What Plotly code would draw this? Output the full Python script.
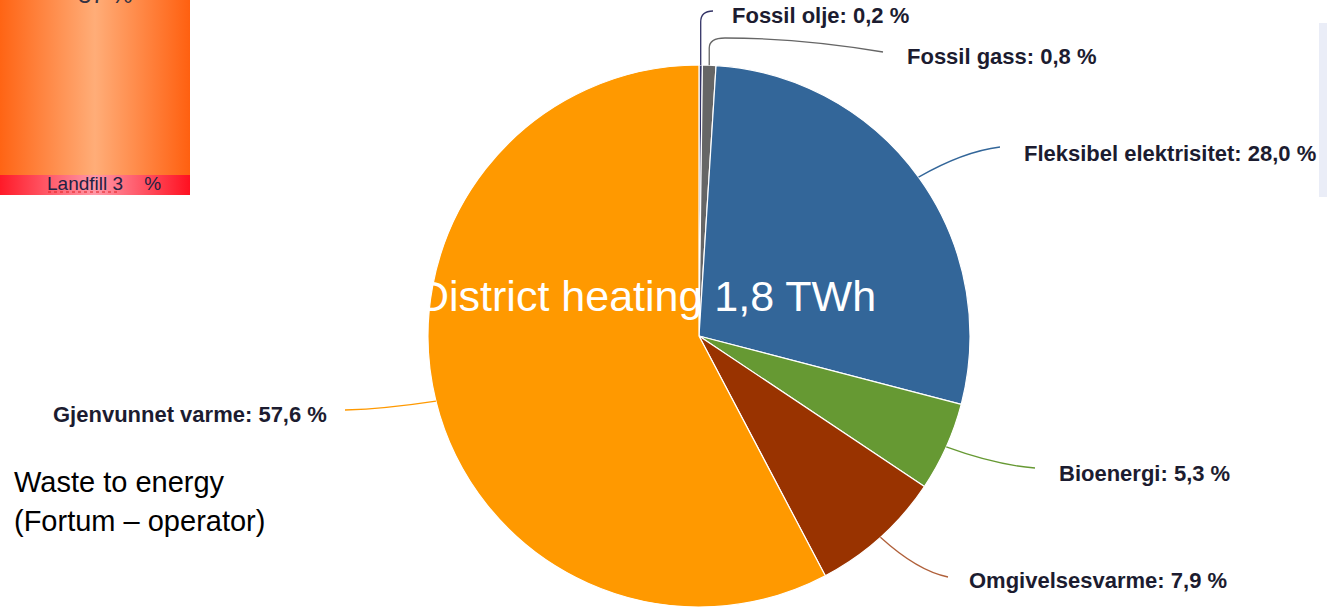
"""
District heating mix (1,8 TWh) as a pie with outside labels.
"""

import math

import plotly.graph_objects as go

W, H = 1327, 607

# data
sources = ["Fossil olje", "Fossil gass", "Fleksibel elektrisitet",
           "Bioenergi", "Omgivelsesvarme", "Gjenvunnet varme"]
shares = [0.2, 0.8, 28.0, 5.3, 7.9, 57.6]
share_text = ["0,2", "0,8", "28,0", "5,3", "7,9", "57,6"]
slice_colors = ["#333366", "#666666", "#336699", "#669933", "#993300", "#FF9900"]
line_colors = ["#333366", "#666666", "#336699", "#669933", "#B0603A", "#FF9900"]

title_text = "District heating 1,8 TWh"
note_lines = ["Waste to energy", "(Fortum \u2013 operator)"]
inset_bottom = "Landfill 3\u00a0\u00a0\u00a0 %"
inset_top = "37 %"

# pie placement (pixels)
CX, CY, R = 699, 336, 271

# label placement: (x, y, xanchor) and connector end point
label_pos = [(730, 15, "left"), (905, 57, "left"), (1022, 153, "left"),
             (1057, 473, "left"), (967, 580, "left"), (329, 414, "right")]
line_end = [(713, 11), (883, 52), (1000, 147), (1035, 468), (948, 577), (345, 410)]

LABEL_FONT = dict(family="Liberation Sans, Arial", size=22, color="#1c1c30", weight="bold")


def px(x):
    return x / W


def py(y):
    return 1 - y / H


fig = go.Figure()

# inset fragment of another chart (top-left)
fig.add_trace(go.Scatter(
    x=[0, 190, 190, 0, 0], y=[0, 0, 175, 175, 0], mode="lines",
    line=dict(width=0), fill="toself", hoverinfo="skip", showlegend=False,
    fillgradient=dict(type="horizontal",
                      colorscale=[[0, "#FF6414"], [0.5, "#FFAD78"], [1, "#FF6010"]]),
))
fig.add_trace(go.Scatter(
    x=[0, 190, 190, 0, 0], y=[175, 175, 195, 195, 175], mode="lines",
    line=dict(width=0), fill="toself", hoverinfo="skip", showlegend=False,
    fillgradient=dict(type="horizontal",
                      colorscale=[[0, "#FF1A28"], [0.5, "#FF98A8"], [1, "#FF1020"]]),
))

fig.add_trace(go.Pie(
    labels=sources,
    values=shares,
    sort=False,
    direction="clockwise",
    rotation=0,
    marker=dict(colors=slice_colors, line=dict(color="white", width=1.2)),
    textinfo="none",
    hoverinfo="label+percent",
    showlegend=False,
    domain=dict(x=[(CX - R) / W, (CX + R) / W], y=[py(CY + R), py(CY - R)]),
))

shapes = []
annotations = []

# connectors + labels, anchored at slice mid-angles
total = sum(shares)
cum = 0.0
for i, name in enumerate(sources):
    mid = (cum + shares[i] / 2) / total * 2 * math.pi
    cum += shares[i]
    ax, ay = CX + R * math.sin(mid), CY - R * math.cos(mid)
    ex, ey = line_end[i]
    if i == 0:
        path = f"M {px(ax)},{py(ay)} L {px(ax)},{py(22)} Q {px(ax)},{py(11)} {px(ex)},{py(ey)}"
    elif i == 1:
        path = (f"M {px(ax)},{py(ay)} L {px(ax)},{py(48)} Q {px(ax)},{py(38)} {px(725)},{py(38)}"
                f" Q {px(800)},{py(38)} {px(ex)},{py(ey)}")
    else:
        qx = ax + (ex - ax) * 0.55
        qy = ey + (ay - ey) * 0.15
        path = f"M {px(ax)},{py(ay)} Q {px(qx)},{py(qy)} {px(ex)},{py(ey)}"
    shapes.append(dict(type="path", xref="paper", yref="paper", path=path,
                       line=dict(color=line_colors[i], width=1.3)))

    lx, ly, anchor = label_pos[i]
    annotations.append(dict(
        x=px(lx), y=py(ly), xref="paper", yref="paper", xanchor=anchor, yanchor="middle",
        text=f"{name}: {share_text[i]} %", showarrow=False, font=LABEL_FONT,
    ))

# grey panel cut at right edge
shapes.append(dict(type="rect", xref="paper", yref="paper",
                   x0=px(1319), x1=1, y0=py(197), y1=py(23),
                   fillcolor="#EAEDF7", line=dict(width=0), layer="below"))
# spell-check squiggle under "Landfill"
shapes.append(dict(type="line", xref="paper", yref="paper",
                   x0=px(48), x1=px(120), y0=py(192), y1=py(192),
                   line=dict(color="#E02020", width=1, dash="dot")))

annotations += [
    dict(x=px(416), y=py(296), xref="paper", yref="paper", xanchor="left", yanchor="middle",
         text=title_text, showarrow=False,
         font=dict(family="Liberation Sans, Arial", size=43, color="white")),
    dict(x=px(12), y=py(482), xref="paper", yref="paper", xanchor="left", yanchor="middle",
         text=note_lines[0], showarrow=False,
         font=dict(family="Liberation Sans, Arial", size=29, color="black")),
    dict(x=px(12), y=py(521), xref="paper", yref="paper", xanchor="left", yanchor="middle",
         text=note_lines[1], showarrow=False,
         font=dict(family="Liberation Sans, Arial", size=29, color="black")),
    dict(x=px(45), y=py(184), xref="paper", yref="paper", xanchor="left", yanchor="middle",
         text=inset_bottom, showarrow=False,
         font=dict(family="Liberation Sans, Arial", size=19, color="#222244")),
    dict(x=px(76), y=py(-5), xref="paper", yref="paper", xanchor="left", yanchor="middle",
         text=inset_top, showarrow=False,
         font=dict(family="Liberation Sans, Arial", size=24, color="#333344")),
]

fig.update_layout(
    width=W, height=H,
    margin=dict(l=0, r=0, t=0, b=0),
    paper_bgcolor="white",
    plot_bgcolor="rgba(0,0,0,0)",
    xaxis=dict(range=[0, W], visible=False, fixedrange=True, domain=[0, 1]),
    yaxis=dict(range=[H, 0], visible=False, fixedrange=True, domain=[0, 1]),
    shapes=shapes,
    annotations=annotations,
    showlegend=False,
)

# the page body has a default 8px margin; drop it so the figure fills the window
fig.write_html("out.html", config={"displayModeBar": False},
               post_script="document.body.style.margin='0px';")
